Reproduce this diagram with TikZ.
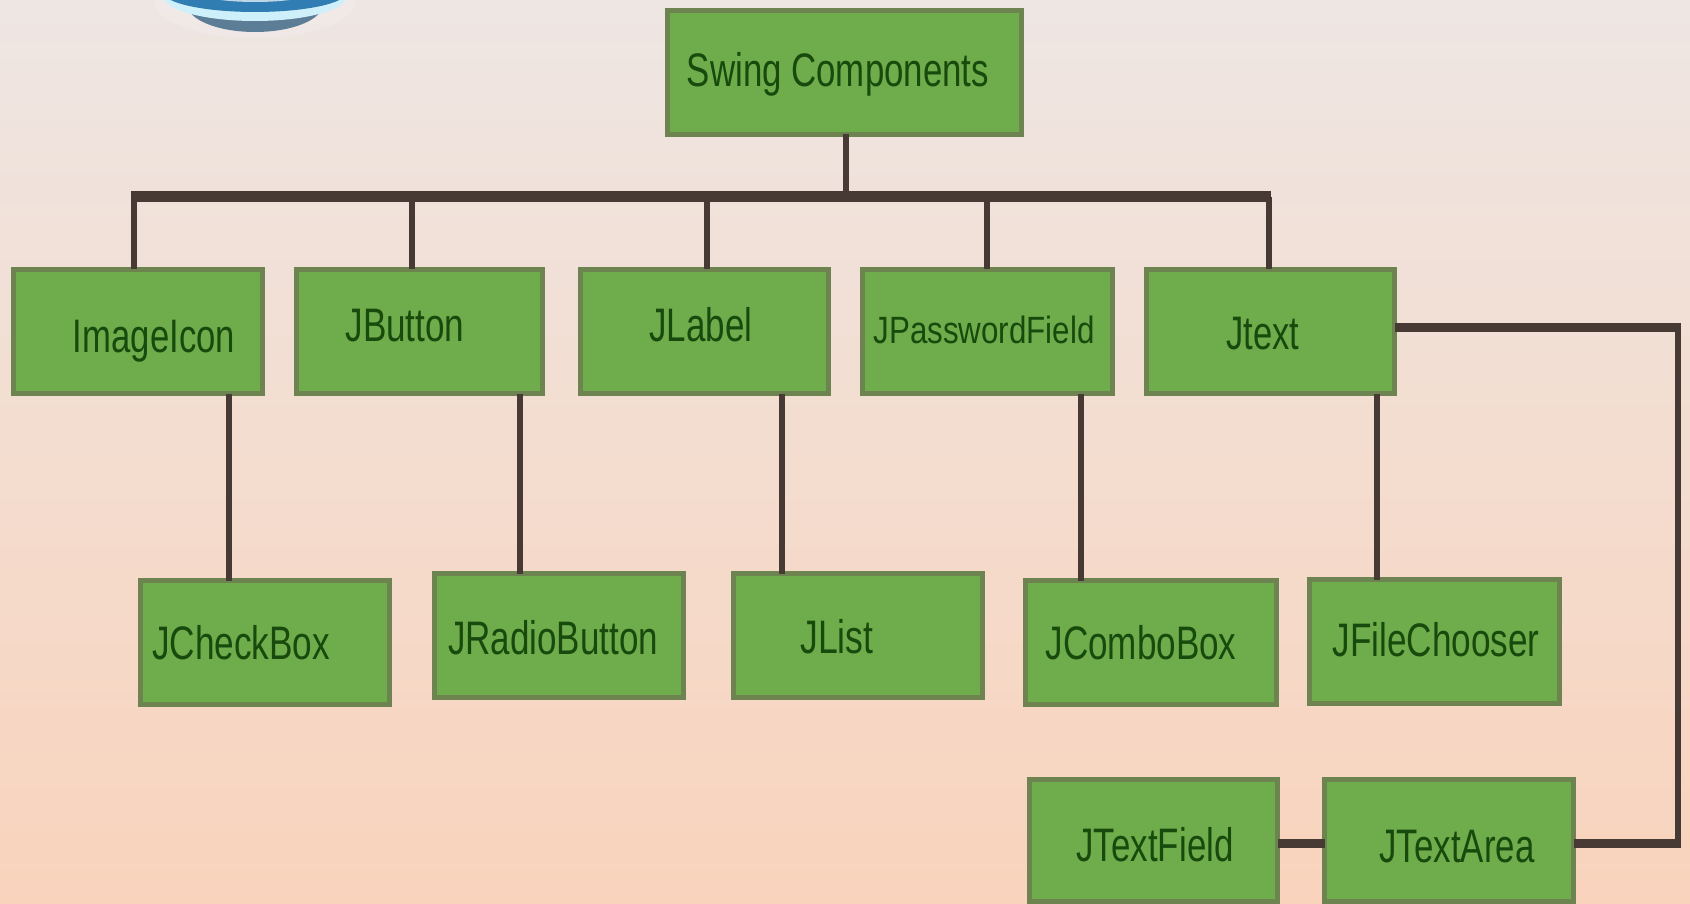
\documentclass[tikz,border=0pt]{standalone}
\usepackage{fontspec}
\usepackage{graphicx}
\setmainfont{Liberation Sans}
\definecolor{bgtop}{HTML}{EEE6E3}
\definecolor{bgbot}{HTML}{F9D3BC}
\definecolor{boxfill}{HTML}{6FAC4B}
\definecolor{boxline}{HTML}{6E8450}
\definecolor{wire}{HTML}{473A35}
\definecolor{labelink}{HTML}{174A0C}
\tikzset{
  compbox/.style={draw=boxline,fill=boxfill,line width=5pt,inner sep=0pt,outer sep=0pt},
  complabel/.style={text=labelink,inner sep=0pt,font=\fontsize{47}{49}\selectfont},
  buswire/.style={draw=wire,line width=11pt},
  hwire/.style={draw=wire,line width=9pt},
  vwire/.style={draw=wire,line width=6.5pt}
}
% name, x1, y1, x2, y2, text x, text y, text width, text
\newcommand{\compbox}[9]{%
  \pgfmathsetmacro\bxc{(#2+#4)/2}%
  \pgfmathsetmacro\byc{(#3+#5)/2}%
  \pgfmathsetmacro\bxw{#4-#2-5}%
  \pgfmathsetmacro\bxh{#5-#3-5}%
  \node[compbox,minimum width=\bxw pt,minimum height=\bxh pt] (#1) at (\bxc,\byc) {};
  \node[complabel] (#1text) at (#6,#7) {\resizebox{#8pt}{\height}{#9}};
}
\begin{document}
\begin{tikzpicture}[x=1pt,y=-1pt]
\useasboundingbox (0,0) rectangle (1690,904);
\shade[top color=bgtop,bottom color=bgbot] (0,0) rectangle (1690,904);
% logo fragment
\begin{scope}
\clip (0,0) rectangle (1690,904);
\fill[white,opacity=.15] (255,2) ellipse (100 and 36);
\fill[color={rgb,255:red,92;green,125;blue,150}] (255,4) ellipse (68 and 28);
\fill[color={rgb,255:red,205;green,240;blue,250}] (255,-4) ellipse (92 and 25);
\fill[color={rgb,255:red,47;green,125;blue,178}] (255,-8) ellipse (92 and 20);
\fill[color={rgb,255:red,190;green,215;blue,230}] (255,-14) ellipse (72 and 16);
\end{scope}
% boxes
\compbox{swing}{665}{8}{1024}{137}{838}{74}{302}{Swing Components}
\compbox{imageicon}{11}{267}{265}{396}{154}{341}{162}{ImageIcon}
\compbox{jbutton}{294}{267}{545}{396}{405}{326}{119}{JButton}
\compbox{jlabel}{578}{267}{831}{396}{701}{325}{103}{JLabel}
\compbox{jpassword}{860}{267}{1115}{396}{984}{330}{221}{\fontsize{38}{40}\selectfont JPasswordField}
\compbox{jtext}{1144}{267}{1397}{396}{1263}{334}{73}{Jtext}
\compbox{jcheckbox}{138}{578}{392}{707}{241}{643}{178}{JCheckBox}
\compbox{jradio}{432}{571}{686}{700}{553}{638}{210}{JRadioButton}
\compbox{jlist}{731}{571}{985}{700}{837}{637}{73}{JList}
\compbox{jcombo}{1023}{578}{1279}{707}{1141}{643}{191}{JComboBox}
\compbox{jfile}{1307}{577}{1562}{706}{1436}{640}{207}{JFileChooser}
\compbox{jfield}{1027}{777}{1280}{904}{1155}{845}{157}{JTextField}
\compbox{jarea}{1322}{777}{1576}{904}{1457}{847}{155}{JTextArea}
% connectors
\coordinate (busL) at (131,197);
\coordinate (busR) at (1271,197);
\coordinate (rightB) at (1678,843);
\draw[buswire] (busL) -- (busR);
\draw[vwire] (846,0 |- swing.south) -- (846,0 |- busL);
\draw[vwire] (134,0 |- busL) -- (134,0 |- imageicon.north);
\draw[vwire] (412,0 |- busL) -- (412,0 |- jbutton.north);
\draw[vwire] (707,0 |- busL) -- (707,0 |- jlabel.north);
\draw[vwire] (987,0 |- busL) -- (987,0 |- jpassword.north);
\draw[vwire] (1269,0 |- busL) -- (1269,0 |- jtext.north);
\draw[vwire] (229,0 |- imageicon.south) -- (229,0 |- jcheckbox.north);
\draw[vwire] (520,0 |- jbutton.south) -- (520,0 |- jradio.north);
\draw[vwire] (782,0 |- jlabel.south) -- (782,0 |- jlist.north);
\draw[vwire] (1081,0 |- jpassword.south) -- (1081,0 |- jcombo.north);
\draw[vwire] (1377,0 |- jtext.south) -- (1377,0 |- jfile.north);
\draw[hwire] (jtext.east |- 0,327) -- (1681,327);
\draw[vwire] (1678,327) -- (rightB);
\draw[hwire] (1681,843) -- (jarea.east |- rightB);
\draw[hwire] (jfield.east |- rightB) -- (jarea.west |- rightB);
\end{tikzpicture}
\end{document}
